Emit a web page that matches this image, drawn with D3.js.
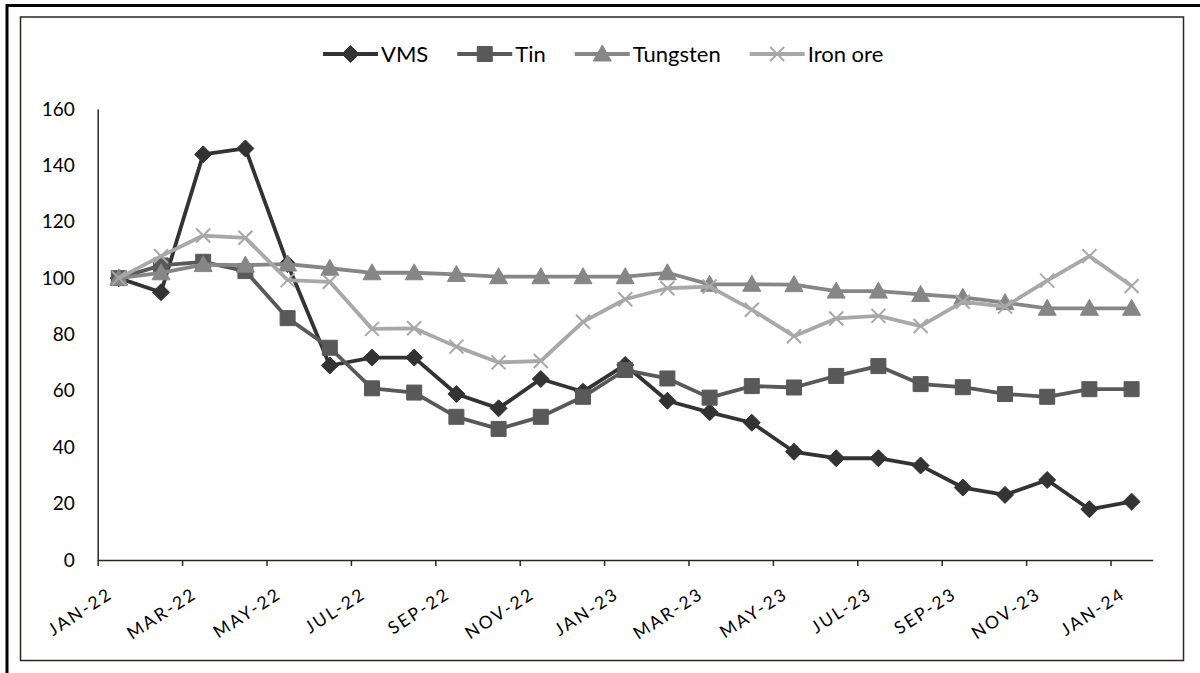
<!DOCTYPE html>
<html>
<head>
<meta charset="utf-8">
<script src="https://cdn.jsdelivr.net/npm/d3@7/dist/d3.min.js"></script>
<style>
  html, body { margin: 0; padding: 0; background: #fff; }
  svg { display: block; font-family: Lato, "Open Sans", sans-serif; }
</style>
</head>
<body>
<svg id="chart" width="1200" height="673"></svg>
<script>
// Monthly categories, Jan 2022 to Jan 2024
const months = ["JAN-22","FEB-22","MAR-22","APR-22","MAY-22","JUN-22","JUL-22","AUG-22","SEP-22","OCT-22","NOV-22","DEC-22",
                "JAN-23","FEB-23","MAR-23","APR-23","MAY-23","JUN-23","JUL-23","AUG-23","SEP-23","OCT-23","NOV-23","DEC-23","JAN-24"];
// Every other month carries a label
const tickLabels = ["JAN-22","MAR-22","MAY-22","JUL-22","SEP-22","NOV-22","JAN-23","MAR-23","MAY-23","JUL-23","SEP-23","NOV-23","JAN-24"];
const yTicks = [0, 20, 40, 60, 80, 100, 120, 140, 160];

// Index values (Jan 2022 = 100)
const vms      = [100, 95, 143.9, 146, 105, 69, 71.8, 71.8, 58.9, 53.8, 64.2, 59.7, 69.2, 56.5, 52.4, 48.7, 38.4, 36.1, 36.1, 33.5, 25.7, 23.1, 28.4, 18, 20.7];
const tin      = [100, 104.5, 105.8, 102.5, 85.8, 75.3, 60.9, 59.4, 50.8, 46.5, 50.8, 57.9, 67.4, 64.4, 57.6, 61.7, 61.2, 65.3, 68.8, 62.4, 61.3, 58.9, 57.9, 60.6, 60.6];
const tungsten = [100, 101.9, 104.8, 104.6, 105, 103.5, 101.9, 101.9, 101.3, 100.5, 100.5, 100.5, 100.5, 101.9, 97.8, 97.8, 97.7, 95.4, 95.4, 94.2, 93.2, 91.3, 89.3, 89.3, 89.3];
const ironOre  = [100, 107.8, 115.1, 114.3, 99.3, 98.7, 82, 82.2, 75.7, 70.1, 70.6, 84.5, 92.5, 96.4, 97, 88.8, 79.4, 85.7, 86.6, 83, 91.6, 89.9, 99.1, 107.8, 97.2];

const seriesNames = ["VMS", "Tin", "Tungsten", "Iron ore"];
const seriesValues = [vms, tin, tungsten, ironOre];
const seriesColors = ["#333333", "#595959", "#868686", "#a8a8a8"];
const seriesMarkers = ["diamond", "square", "triangle", "cross"];

const svg = d3.select("#chart");
const axisColor = "#2e2620";

// Page and chart frames
svg.append("path")
  .attr("d", "M7,673 V5.5 H1200")
  .attr("fill", "none").attr("stroke", "#000").attr("stroke-width", 3);
svg.append("rect")
  .attr("x", 20.5).attr("y", 17).attr("width", 1163).attr("height", 643.5)
  .attr("fill", "none").attr("stroke", axisColor).attr("stroke-width", 1.5);

const plotLeft = 97.7, plotRight = 1152.7, plotTop = 109, plotBottom = 560;

const x = d3.scaleBand().domain(months).range([plotLeft, plotRight]).padding(0);
const xEdge = d3.scaleLinear().domain([0, months.length]).range([plotLeft, plotRight]);
const y = d3.scaleLinear().domain([0, 160]).range([plotBottom, plotTop]);
const cx = m => x(m) + x.bandwidth() / 2;

// Y axis
const yAxis = svg.append("g")
  .attr("transform", `translate(${plotLeft},0)`)
  .call(d3.axisLeft(y).tickValues(yTicks).tickSize(0).tickPadding(23).tickSizeOuter(0));
yAxis.select(".domain").attr("stroke", axisColor).attr("stroke-width", 1.5);
yAxis.selectAll("text").attr("font-size", 19).attr("fill", "#000").attr("font-family", "Lato");

// X axis: ticks on month boundaries, labels on every other month centre
const xAxis = svg.append("g")
  .attr("transform", `translate(0,${plotBottom})`)
  .call(d3.axisBottom(xEdge).tickValues(d3.range(0, months.length, 2)).tickSize(6).tickSizeOuter(0).tickFormat(""));
xAxis.select(".domain").attr("stroke", axisColor).attr("stroke-width", 1.5);
xAxis.selectAll(".tick line").attr("stroke", axisColor).attr("stroke-width", 1.5);

svg.append("g").selectAll("text")
  .data(tickLabels)
  .join("text")
  .attr("transform", d => `translate(${cx(d) - 5},${plotBottom + 37}) rotate(-33)`)
  .attr("text-anchor", "end")
  .attr("font-size", 17.5)
  .attr("letter-spacing", 2.2)
  .attr("fill", "#000")
  .text(d => d);

// Marker shapes
function markerPath(type) {
  switch (type) {
    case "diamond": return "M0,-8.5 L8.5,0 L0,8.5 L-8.5,0 Z";
    case "square": return "M-7.5,-7.5 H7.5 V7.5 H-7.5 Z";
    case "triangle": return "M0,-9 L9,7 L-9,7 Z";
    case "cross": return "M-7,-7 L7,7 M-7,7 L7,-7";
  }
}
function drawMarker(sel, type, color) {
  if (type === "cross") {
    sel.append("path").attr("d", markerPath(type)).attr("fill", "none")
      .attr("stroke", color).attr("stroke-width", 2);
  } else {
    sel.append("path").attr("d", markerPath(type)).attr("fill", color)
      .attr("stroke", color).attr("stroke-width", 1);
  }
}

const line = d3.line().x((d, i) => cx(months[i])).y(d => y(d));

seriesValues.forEach((vals, s) => {
  const g = svg.append("g");
  g.append("path")
    .datum(vals)
    .attr("d", line)
    .attr("fill", "none")
    .attr("stroke", seriesColors[s])
    .attr("stroke-width", 3.8)
    .attr("stroke-linejoin", "round");
  g.selectAll("g.pt")
    .data(vals)
    .join("g")
    .attr("class", "pt")
    .attr("transform", (d, i) => `translate(${cx(months[i])},${y(d)})`)
    .each(function() { drawMarker(d3.select(this), seriesMarkers[s], seriesColors[s]); });
});

// Legend along the top
const legend = svg.append("g").attr("transform", "translate(0,54)");
let lx = 323;
seriesNames.forEach((name, s) => {
  const item = legend.append("g").attr("transform", `translate(${lx},0)`);
  item.append("line").attr("x1", 0).attr("x2", 55).attr("y1", 0).attr("y2", 0)
    .attr("stroke", seriesColors[s]).attr("stroke-width", 4);
  const mk = item.append("g").attr("transform", "translate(27.5,0)");
  drawMarker(mk, seriesMarkers[s], seriesColors[s]);
  const t = item.append("text").attr("x", 58).attr("y", 8)
    .attr("font-size", 22).attr("fill", "#000").text(name);
  lx += 58 + t.node().getComputedTextLength() + 29;
});
</script>
</body>
</html>
